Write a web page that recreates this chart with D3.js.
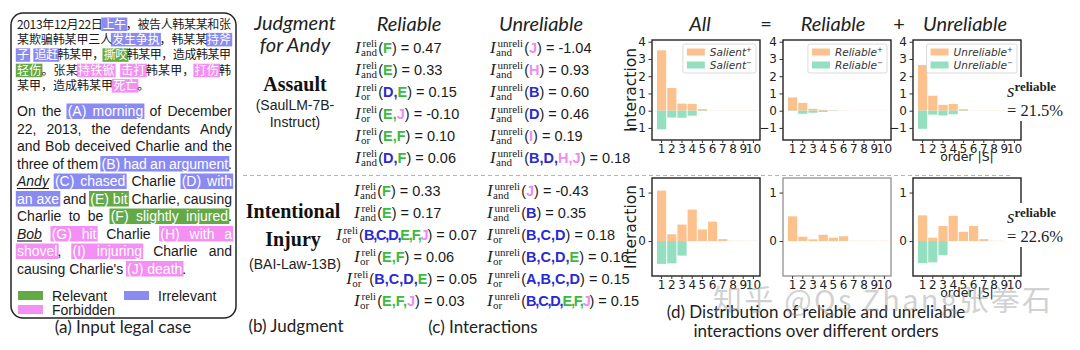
<!DOCTYPE html>
<html><head><meta charset="utf-8">
<script src="https://cdn.jsdelivr.net/npm/d3@7/dist/d3.min.js"></script>
<style>html,body{margin:0;padding:0;background:#fff;} svg{display:block;}</style>
</head><body>
<svg id="fig" width="1080" height="350"></svg>
<script>
// ================= DATA =================
const caseTextZh = [
  "2013年12月22日[A|上午]，被告人韩某某和张",
  "某欺骗韩某甲三人[B|发生争执]，韩某某[D|持斧]",
  "[D|子] [C|追赶]韩某甲，[E|撕咬]韩某甲，造成韩某甲",
  "[F|轻伤]。张某[H|持铁锨] [G|击打]韩某甲，[I|打伤]韩",
  "某甲，造成韩某甲[J|死亡]。"
];
const caseTextEn = [
  "On the [A|(A) morning] of December",
  "22, 2013, the defendants Andy",
  "and Bob deceived Charlie and the",
  "three of them [B|(B) had an argument].",
  "<Andy> [C|(C) chased] Charlie [D|(D) with]",
  "[D|an axe] and [E|(E) bit] Charlie, causing",
  "Charlie to be [F|(F) slightly injured].",
  "<Bob> [G|(G) hit] Charlie [H|(H) with a]",
  "[H|shovel], [I|(I) injuring] Charlie and",
  "causing Charlie's [J|(J) death]."
];
const factCategory = {A:"irr",B:"irr",C:"irr",D:"irr",E:"rel",F:"rel",G:"forb",H:"forb",I:"forb",J:"forb"};
const legendCategories = [["rel","Relevant"],["irr","Irrelevant"],["forb","Forbidden"]];

const judgmentHeader = ["Judgment","for Andy"];
const judgmentCrimes = [["Assault"],["Intentional","Injury"]];
const judgmentModels = [["(SaulLM-7B-","Instruct)"],["(BAI-Law-13B)"]];

// [operator, players, value]
const reliableAssault   = [["and","F",0.47],["and","E",0.33],["or","D,E",0.15],["or","E,J",-0.10],["or","E,F",0.10],["and","D,F",0.06]];
const unreliableAssault = [["and","J",-1.04],["and","H",0.93],["and","B",0.60],["and","D",0.46],["and","I",0.19],["and","B,D,H,J",0.18]];
const reliableInjury    = [["and","F",0.33],["and","E",0.17],["or","B,C,D,E,F,J",0.07],["or","E,F",0.06],["or","B,C,D,E",0.05],["or","E,F,J",0.03]];
const unreliableInjury  = [["and","J",-0.43],["and","B",0.35],["or","B,C,D",0.18],["or","B,C,D,E",0.16],["or","A,B,C,D",0.15],["or","B,C,D,E,F,J",0.15]];

const orders = [1,2,3,4,5,6,7,8,9,10];
// Assault (top row)
const allPosTop    = [3.50,1.32,0.41,0.39,0.09,0.01,0.01,0.01,0.01,0.01];
const allNegTop    = [-1.08,-0.40,-0.41,-0.29,-0.02,0,0,0,0,0];
const reliPosTop   = [0.77,0.45,0.11,0.05,0.02,0.01,0.005,0.005,0.005,0.005];
const reliNegTop   = [-0.02,-0.18,-0.12,-0.07,-0.02,0,0,0,0,0];
const unreliPosTop = [2.65,0.87,0.34,0.39,0.08,0.01,0.01,0.01,0.01,0.01];
const unreliNegTop = [-1.05,-0.23,-0.28,-0.21,-0.02,0,0,0,0,0];
// Intentional injury (bottom row)
const allPosBot    = [1.04,0.14,0.34,0.65,0.24,0.40,0.04,0.005,0.005,0.005];
const allNegBot    = [-0.47,-0.46,-0.30,0,0,0,0,0,0,0];
const reliPosBot   = [0.51,0.09,0.035,0.13,0.07,0.10,0.005,0.005,0.005,0.005];
const reliNegBot   = [0,0,0,0,0,0,0,0,0,0];
const unreliPosBot = [0.53,0.07,0.31,0.52,0.19,0.31,0.04,0.005,0.005,0.005];
const unreliNegBot = [-0.455,-0.44,-0.29,0,0,0,0,0,0,0];

const yTicksTop = [-1,0,1,2,3,4];
const yTicksBot = [0,1];
const chartTitles = ["All","Reliable","Unreliable"];
const chartOps = ["=","+"];
const legendNames = ["Salient","Reliable","Unreliable"];
const sReliable = ["21.5%","22.6%"];
const captionA = "(a) Input legal case";
const captionB = "(b) Judgment";
const captionC = "(c) Interactions";
const captionD = ["(d) Distribution of reliable and unreliable","interactions over different orders"];
const columnTitles = ["Reliable","Unreliable"];
const watermark = "知乎 @Qs Zhang张拳石";

// ================= STYLE =================
const catColor = {rel:"#63a946", irr:"#8a8af3", forb:"#f48ff4"};
const letterColor = {rel:"#3cba3c", irr:"#2a2ad2", forb:"#ef8cef"};
const ORANGE = "#fdc18d", GREEN = "#93dfbf";
const F = {
  en:{family:"'Liberation Sans', Arial, sans-serif", size:14},
  enI:{family:"'Liberation Sans', Arial, sans-serif", size:14, style:"italic"},
  zh:{family:"'Noto Sans CJK SC', sans-serif", size:12},
  cap:{family:"Lato, sans-serif", size:17},
  title:{family:"Lato, sans-serif", size:20, style:"italic"},
  crime:{family:"'Liberation Serif', serif", size:20, weight:"bold"},
  model:{family:"'Liberation Sans', Arial, sans-serif", size:14},
  fI:{family:"'Liberation Serif', serif", size:17, style:"italic"},
  fs:{family:"'Liberation Serif', serif", size:11},
  fm:{family:"'Liberation Sans', Arial, sans-serif", size:14.5},
  tick:{family:"'DejaVu Sans', sans-serif", size:12},
  ylab:{family:"'DejaVu Sans', sans-serif", size:15.5},
  leg:{family:"'DejaVu Sans', sans-serif", size:10.5, style:"italic"},
  ser:{family:"'Liberation Serif', serif", size:16.5}
};

const svg = d3.select("#fig");
const meas = svg.append("text").attr("x",-900).attr("y",-900);
function setF(sel,f){ return sel.attr("font-family",f.family).attr("font-size",f.size)
  .attr("font-style",f.style||"normal").attr("font-weight",f.weight||"normal"); }
function tw(t,f){ setF(meas,f).text(t); return meas.node().getComputedTextLength(); }
function txt(g,x,y,t,f){ return setF(g.append("text").attr("x",x).attr("y",y),f).text(t); }

function parse(s){
  const out=[]; const re=/\[([A-J])\|([^\]]*)\]|<([^>]*)>|([^\[<]+)/g; let m;
  while((m=re.exec(s))){
    if(m[1]) out.push({t:m[2],h:m[1]});
    else if(m[3]) out.push({t:m[3],u:true});
    else out.push({t:m[4]});
  }
  return out;
}

// ================= PANEL (a) =================
const gA = svg.append("g");
gA.append("rect").attr("x",11).attr("y",13).attr("width",225).attr("height",305)
  .attr("rx",12).attr("fill","none").attr("stroke","#222").attr("stroke-width",1.5);
const X0=17, X1=232;

function highlightRuns(flat, yTop, h){
  let i=0;
  while(i<flat.length){
    if(flat[i].h){
      let j=i; while(j+1<flat.length && flat[j+1].h===flat[i].h) j++;
      const a=flat[i].x-1.2, b=flat[j].x+flat[j].w+1.2;
      gA.append("rect").attr("x",a).attr("y",yTop).attr("width",b-a).attr("height",h)
        .attr("fill",catColor[factCategory[flat[i].h]]);
      i=j+1;
    } else i++;
  }
}

// Chinese lines
caseTextZh.forEach((line,li)=>{
  const base = 28.5 + li*15.4;
  const chars=[];
  parse(line).forEach(p=>Array.from(p.t).forEach(ch=>chars.push({t:ch,h:p.h})));
  chars.forEach(c=>c.w = c.t===" " ? 6.5 : tw(c.t,F.zh));
  const nat=d3.sum(chars,c=>c.w);
  const justify = li < caseTextZh.length-1;
  const extra = justify ? (X1-1-X0-nat)/(chars.length-1) : 0;
  let x=X0; chars.forEach(c=>{c.x=x; x+=c.w+extra;});
  highlightRuns(chars, base-11, 13.5);
  chars.forEach(c=>{ if(c.t!==" ") txt(gA,c.x,base,c.t,F.zh).attr("fill",c.h?"#fff":"#1a1a1a"); });
});

// English lines
const enSpace = tw("a a",F.en)-tw("aa",F.en);
caseTextEn.forEach((line,li)=>{
  const base = 116 + li*17.5;
  let words=[[]];
  parse(line).forEach(p=>{ p.t.split(" ").forEach((part,i)=>{ if(i>0) words.push([]); if(part.length) words[words.length-1].push({t:part,h:p.h,u:p.u}); }); });
  words = words.filter(w=>w.length);
  words.forEach(w=>{ w.forEach(pc=>pc.w=tw(pc.t, pc.u?F.enI:F.en)); w.width=d3.sum(w,pc=>pc.w); });
  const total=d3.sum(words,w=>w.width);
  const justify = li < caseTextEn.length-1;
  const gap = justify ? (X1-X0-total)/(words.length-1) : enSpace;
  let x=X0; const flat=[];
  words.forEach(w=>{ let px=x; w.forEach(pc=>{pc.x=px; px+=pc.w; flat.push(pc);}); x+=w.width+gap; });
  highlightRuns(flat, base-12.5, 15.5);
  flat.forEach(pc=>{
    txt(gA,pc.x,base,pc.t,pc.u?F.enI:F.en).attr("fill",pc.h?"#fff":"#1a1a1a");
    if(pc.u) gA.append("line").attr("x1",pc.x).attr("x2",pc.x+pc.w).attr("y1",base+2.5).attr("y2",base+2.5)
      .attr("stroke","#1a1a1a").attr("stroke-width",1.1);
  });
});

// legend of (a)
const legPos = [[18,291],[124,291],[18,305]];
legendCategories.forEach((c,i)=>{
  const [lx,ly]=legPos[i];
  gA.append("rect").attr("x",lx).attr("y",ly).attr("width",25).attr("height",9).attr("fill",catColor[c[0]]);
  txt(gA,lx+34,ly+9.5,c[1],F.en).attr("fill","#1a1a1a");
});
txt(svg,123,333,captionA,F.cap).attr("text-anchor","middle").attr("fill","#222");

// ================= PANEL (b) =================
const cB = 295;
judgmentHeader.forEach((t,i)=>txt(svg,cB,30+i*22,t,F.title).attr("text-anchor","middle").attr("fill","#222"));
judgmentCrimes[0].forEach((t,i)=>txt(svg,cB,91+i*28,t,F.crime).attr("text-anchor","middle").attr("fill","#111"));
judgmentModels[0].forEach((t,i)=>txt(svg,cB,110+i*16.5,t,F.model).attr("text-anchor","middle").attr("fill","#222"));
judgmentCrimes[1].forEach((t,i)=>txt(svg,cB-2,218+i*28,t,F.crime).attr("text-anchor","middle").attr("fill","#111"));
judgmentModels[1].forEach((t,i)=>txt(svg,cB,269+i*16.5,t,F.model).attr("text-anchor","middle").attr("fill","#222"));
txt(svg,cB+1,332,captionB,F.cap).attr("text-anchor","middle").attr("fill","#222");

// dashed separator
svg.append("line").attr("x1",243).attr("x2",1013).attr("y1",175.5).attr("y2",175.5)
  .attr("stroke","#b5b5b5").attr("stroke-width",1).attr("stroke-dasharray","4,3");

// ================= PANEL (c) =================
txt(svg,409,31,columnTitles[0],F.title).attr("text-anchor","middle").attr("fill","#222");
txt(svg,541,31,columnTitles[1],F.title).attr("text-anchor","middle").attr("fill","#222");
const fmtV = v => (v<0?"-":"")+Math.abs(v).toFixed(2);

function drawFormula(x,y,group,row,maxEnd){
  const [op,players,val]=row;
  const g=svg.append("g");
  txt(g,x,y,"I",F.fI).attr("fill","#222");
  txt(g,x+7.5,y-6.5,group,F.fs).attr("fill","#222");
  txt(g,x+6,y+2.5,op,F.fs).attr("fill","#222");
  const w=Math.max(tw(group,F.fs)+1.5,tw(op,F.fs));
  const t=setF(g.append("text").attr("x",x+6+w+1).attr("y",y),F.fm).attr("fill","#1a1a1a");
  t.append("tspan").text("(");
  const ls=players.split(",");
  const squeeze = ls.length>=6 ? -1.2 : 0;
  ls.forEach((L,i)=>{
    const col=letterColor[factCategory[L]];
    t.append("tspan").attr("font-weight","bold").attr("fill",col).attr("letter-spacing",squeeze).text(L);
    if(i<ls.length-1) t.append("tspan").attr("font-weight","bold").attr("fill",col).attr("letter-spacing",squeeze).text(",");
  });
  t.append("tspan").attr("letter-spacing",0).text(") = "+fmtV(val));
  const bb=g.node().getBBox();
  if(maxEnd && bb.x+bb.width>maxEnd) g.attr("transform",`translate(${maxEnd-(bb.x+bb.width)},0)`);
}
reliableAssault.forEach((r,i)=>drawFormula(355,53+i*22,"reli",r,478));
unreliableAssault.forEach((r,i)=>drawFormula(490,53+i*22,"unreli",r));
reliableInjury.forEach((r,i)=>drawFormula(354,196+i*22,"reli",r,477));
unreliableInjury.forEach((r,i)=>drawFormula(487,196+i*22,"unreli",r));
txt(svg,483,333,captionC,F.cap).attr("text-anchor","middle").attr("fill","#222");

// ================= PANEL (d) =================
const frameX=[652,783,913], frameW=108;
const dRows=[{y0:40,y1:140,domain:[-1.7,4.1],ticks:yTicksTop},{y0:178,y1:276,domain:[-0.72,1.3],ticks:yTicksBot}];
const chartData=[
  [[allPosTop,allNegTop],[reliPosTop,reliNegTop],[unreliPosTop,unreliNegTop]],
  [[allPosBot,allNegBot],[reliPosBot,reliNegBot],[unreliPosBot,unreliNegBot]]
];
const frameColor=[["#222","#222","#222"],["#222","#999","#222"]];
const tickFmt = d => d<0 ? "\u2212"+Math.abs(d) : String(d);

chartData.forEach((rowData,ri)=>{
  const r=dRows[ri];
  const y=d3.scaleLinear().domain(r.domain).range([r.y1,r.y0]);
  rowData.forEach(([pos,neg],ci)=>{
    const cx=frameX[ci];
    const x=d3.scaleBand().domain(orders).range([cx+5,cx+106]).paddingInner(0.1);
    const g=svg.append("g");
    g.selectAll("rect.p").data(orders.map((o,i)=>({o,v:pos[i]}))).join("rect").attr("class","p")
      .attr("x",d=>x(d.o)).attr("width",x.bandwidth()).attr("y",d=>y(d.v)).attr("height",d=>Math.max(0,y(0)-y(d.v)))
      .attr("fill",ORANGE);
    g.selectAll("rect.n").data(orders.map((o,i)=>({o,v:neg[i]}))).join("rect").attr("class","n")
      .attr("x",d=>x(d.o)).attr("width",x.bandwidth()).attr("y",y(0)).attr("height",d=>Math.max(0,y(d.v)-y(0)))
      .attr("fill",GREEN);
    g.append("rect").attr("x",cx).attr("y",r.y0).attr("width",frameW).attr("height",r.y1-r.y0)
      .attr("fill","none").attr("stroke",frameColor[ri][ci]).attr("stroke-width",1.4);
    const ya=g.append("g").attr("transform",`translate(${cx},0)`)
      .call(d3.axisLeft(y).tickValues(r.ticks).tickSize(3.5).tickPadding(2.5).tickFormat(tickFmt));
    const xa=g.append("g").attr("transform",`translate(0,${r.y1})`)
      .call(d3.axisBottom(x).tickSize(3).tickPadding(1.5));
    [ya,xa].forEach(a=>{
      a.select(".domain").remove();
      a.selectAll("line").attr("stroke","#333");
      a.selectAll("text").attr("font-family",F.tick.family).attr("font-size",F.tick.size).attr("fill","#222");
      a.attr("font-family",null).attr("font-size",null);
    });
    if(ri===0){
      const names=legendNames[ci];
      const tw1=tw(names,F.leg)+6;
      const lw=27+tw1+4, lx=cx+104-lw, ly=44;
      g.append("rect").attr("x",lx).attr("y",ly).attr("width",lw).attr("height",29).attr("rx",2)
        .attr("fill","#fff").attr("stroke","#d2d2d2").attr("stroke-width",0.8);
      [["+",ORANGE],["\u2212",GREEN]].forEach(([sg,col],k)=>{
        const yy=ly+8+k*13;
        g.append("rect").attr("x",lx+4).attr("y",yy-3.5).attr("width",18).attr("height",7).attr("fill",col);
        const t=setF(g.append("text").attr("x",lx+27).attr("y",yy+3.5),F.leg).attr("fill","#333");
        t.append("tspan").text(names);
        t.append("tspan").attr("dy",-4).attr("font-size",7).text(sg);
      });
    }
  });
  txt(svg,0,0,"Interaction",F.ylab).attr("text-anchor","middle").attr("fill","#222")
    .attr("transform",`translate(${636},${(r.y0+r.y1)/2}) rotate(-90)`);
  txt(svg,frameX[2]+frameW/2,r.y1+21,"order |S|",{family:F.tick.family,size:12.5}).attr("text-anchor","middle").attr("fill","#222");
  const by = ri===0 ? 77 : 203;
  svg.append("rect").attr("x",1004).attr("y",by).attr("width",62).attr("height",44).attr("fill","#fff");
  const st=setF(svg.append("text").attr("x",1007).attr("y",by+20),{family:"'Liberation Serif', serif",size:19,style:"italic"}).attr("fill","#222");
  st.append("tspan").text("s");
  st.append("tspan").attr("dy",-6).attr("font-size",13).attr("font-style","normal").attr("font-weight","bold").text("reliable");
  txt(svg,1007,by+39,"= "+sReliable[ri],F.ser).attr("fill","#222");
});
chartTitles.forEach((t,i)=>txt(svg,[700,833,965][i],31,t,F.title).attr("text-anchor","middle").attr("fill","#222"));
chartOps.forEach((t,i)=>txt(svg,[766,899][i],31,t,{family:"Lato, sans-serif",size:20}).attr("text-anchor","middle").attr("fill","#222"));
captionD.forEach((t,i)=>txt(svg,816,318+i*19,t,F.cap).attr("text-anchor","middle").attr("fill","#222"));

// watermark (present in the reference image)
setF(svg.append("text").attr("x",713).attr("y",311),{family:"'Noto Sans CJK SC', sans-serif",size:29})
  .attr("textLength",338).attr("lengthAdjust","spacing")
  .attr("fill","#9a9a9a").attr("opacity",0.45).text(watermark);
meas.remove();
</script>
</body></html>
